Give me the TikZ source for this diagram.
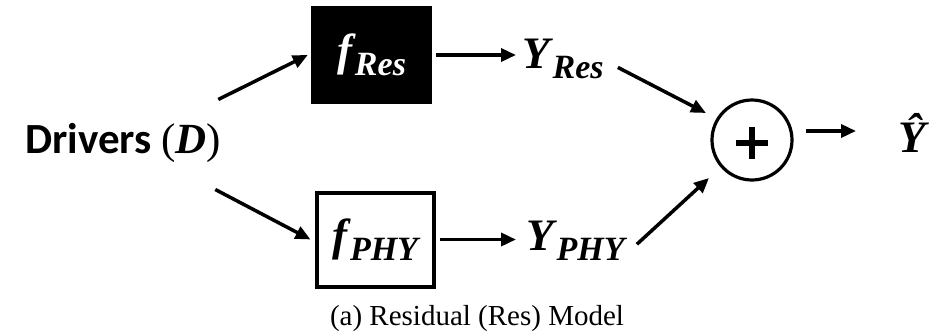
\documentclass[tikz,border=0pt]{standalone}
\usepackage{fontspec}
\setmainfont{Liberation Serif}
\newfontfamily\calib{Carlito}
\usetikzlibrary{arrows.meta,calc}
\newcommand\mvar[2]{{\fontsize{45}{50}\selectfont\bfseries\itshape #1}\kern3pt\raisebox{-10pt}{\fontsize{34}{38}\selectfont\bfseries\itshape #2}}
\begin{document}
\begin{tikzpicture}[x=1pt,y=-1pt,
  arr/.style={line width=3.5pt,-{Triangle[length=15pt,width=13pt]}},
  blk/.style={rectangle,inner sep=0pt,minimum width=121pt,minimum height=98pt},
  lbl/.style={inner sep=0pt}]
\useasboundingbox (0,0) rectangle (940,335);
\node[lbl,anchor=base west,font=\calib\bfseries\fontsize{43}{48}\selectfont] (drv) at (25,153)
  {Drivers {\rmfamily\mdseries(\textbf{\textit{D}})}};
\node[blk,fill=black,text=white] (fres) at (371.5,55) {\mvar{f}{Res}};
\node[blk,draw=black,line width=4pt,minimum width=117pt,minimum height=94pt] (fphy) at (375,239.5) {\mvar{f}{PHY}};
\node[lbl,anchor=base west] (yres) at (522,68) {\mvar{Y}{Res}};
\node[lbl,anchor=base west] (yphy) at (526,250) {\mvar{Y}{PHY}};
\node[circle,draw=black,line width=3.2pt,minimum size=80pt,inner sep=0pt] (plus) at (752,140) {};
\draw[line width=6pt] ($(plus.center)+(-16,3)$) -- ($(plus.center)+(16,3)$);
\draw[line width=6pt] ($(plus.center)+(0,-13)$) -- ($(plus.center)+(0,19)$);
\node[lbl,anchor=base west,font=\fontsize{45}{50}\selectfont\bfseries\itshape] (yhat) at (898,152) {Ŷ};
\node[lbl,anchor=base,font=\fontsize{29}{33}\selectfont] (cap) at (477,325) {(a) Residual (Res) Model};
% connectors
\draw[arr] ($(drv.east)+(-3,-43)$) -- ([xshift=-3pt]fres.west);
\draw[arr] ($(drv.east)+(-6,47)$) -- ([xshift=-4pt]fphy.west);
\draw[arr] ([xshift=4pt]fres.east) -- ([xshift=-6pt]fres.east -| yres.west);
\draw[arr] ([xshift=4pt]fphy.east) -- ([xshift=-10pt]fphy.east -| yphy.west);
\draw[arr] ($(yres.east)+(14,9)$) -- ($(plus.center)+(-46,-27)$);
\draw[arr] ($(yphy.east)+(12,4)$) -- ($(plus.center)+(-43,38)$);
\draw[arr] ($(plus.center)+(54,-9)$) -- ($(yhat.west |- plus.center)+(-42,-9)$);
\end{tikzpicture}
\end{document}
